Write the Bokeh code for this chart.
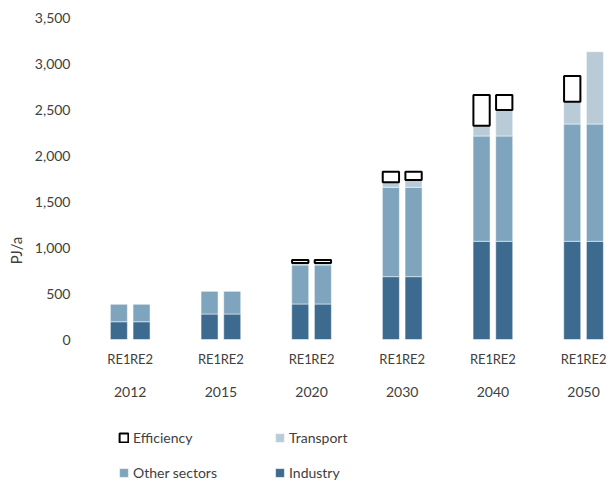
from bokeh.plotting import figure
from bokeh.models import (ColumnDataSource, Range1d, FixedTicker,
                          NumeralTickFormatter, Legend, LegendItem)
from bokeh.core.properties import value
from bokeh.embed import file_html
from bokeh.resources import INLINE

# ---- data (PJ/a) ----
years = ["2012", "2015", "2020", "2030", "2040", "2050"]
scenarios = ["RE1", "RE2"]
industry_re1 = [193, 277, 386, 683, 1067, 1067]
industry_re2 = [193, 277, 386, 683, 1067, 1067]
other_re1 = [193, 250, 424, 971, 1145, 1275]
other_re2 = [193, 250, 424, 971, 1145, 1275]
transport_re1 = [0, 0, 21, 55, 112, 243]
transport_re2 = [0, 0, 21, 80, 282, 786]
efficiency_re1 = [0, 0, 33, 115, 333, 279]
efficiency_re2 = [0, 0, 33, 90, 163, 0]

C_IND = "#3d6a8f"
C_OTH = "#7ea5bd"
C_TRA = "#b8cbd7"
TXT = "#404040"
FONT = "Lato"

# positions: group i centred at 4*i, RE1 at -0.5, RE2 at +0.5
xs, ind, oth, tra, eff, labels = [], [], [], [], [], []
for i, y in enumerate(years):
    for j, (I, O, T, E) in enumerate([
            (industry_re1[i], other_re1[i], transport_re1[i], efficiency_re1[i]),
            (industry_re2[i], other_re2[i], transport_re2[i], efficiency_re2[i])]):
        xs.append(4 * i + (j - 0.5))
        ind.append(I); oth.append(O); tra.append(T); eff.append(E)
        labels.append(scenarios[j])
centers = [4 * i for i in range(len(years))]

src = ColumnDataSource(dict(x=xs, Industry=ind, Other=oth, Transport=tra))
eb = [i + o + t for i, o, t in zip(ind, oth, tra)]
e_src = ColumnDataSource(dict(
    x=[x for x, e in zip(xs, eff) if e > 0],
    bottom=[b for b, e in zip(eb, eff) if e > 0],
    top=[b + e for b, e in zip(eb, eff) if e > 0]))

# the plotting area keeps 322 px for 0..3500; the frame extends below it
# to host the category labels and the legend
Y_MAX = 3500
PLOT_PX, BELOW_PX = 322, 144
y_start = -Y_MAX * BELOW_PX / PLOT_PX

p = figure(frame_width=532, frame_height=PLOT_PX + BELOW_PX, output_backend="svg",
           toolbar_location=None,
           x_range=Range1d(-2.37, 21.1), y_range=Range1d(y_start, Y_MAX),
           min_border_left=76, min_border_right=0, min_border_top=17,
           min_border_bottom=0, x_axis_location=None)
p.outline_line_color = None
p.xgrid.visible = False
p.ygrid.visible = False

stack = p.vbar_stack(["Industry", "Other", "Transport"], x="x", width=0.75,
                     source=src, color=[C_IND, C_OTH, C_TRA],
                     line_color="white", line_alpha=0.5, line_width=1)
effr = p.vbar(x="x", bottom="bottom", top="top", width=0.72, source=e_src,
              fill_color="white", line_color="black", line_width=2)

# y axis
ya = p.yaxis[0]
ya.bounds = (0, Y_MAX)
ya.ticker = FixedTicker(ticks=list(range(0, Y_MAX + 1, 500)))
ya.formatter = NumeralTickFormatter(format="0,0")
ya.axis_line_color = None
ya.major_tick_line_color = None
ya.minor_tick_line_color = None
ya.major_tick_out = 0
ya.major_tick_in = 0
ya.minor_tick_out = 0
ya.major_label_standoff = 6
ya.major_label_text_font = FONT
ya.major_label_text_font_size = "14px"
ya.major_label_text_color = TXT
ya.axis_label = "PJ/a"
ya.axis_label_text_font = FONT
ya.axis_label_text_font_style = "normal"
ya.axis_label_text_font_size = "15px"
ya.axis_label_text_color = TXT
ya.axis_label_standoff = 7

# category labels (scenario row and year row) hung below the zero line
lab_src = ColumnDataSource(dict(x=xs, y=[0] * len(xs), t=labels))
yr_src = ColumnDataSource(dict(x=centers, y=[0] * len(centers), t=years))
p.text(x="x", y="y", text="t", source=lab_src, y_offset=19, text_align="center",
       text_baseline="middle", text_font=value(FONT), text_font_size="13px",
       text_color=TXT)
p.text(x="x", y="y", text="t", source=yr_src, y_offset=52, text_align="center",
       text_baseline="middle", text_font=value(FONT), text_font_size="14px",
       text_color=TXT)

# column-major filling: column 1 = Efficiency / Other sectors
legend = Legend(items=[
    LegendItem(label="Efficiency", renderers=[effr]),
    LegendItem(label="Other sectors", renderers=[stack[1]]),
    LegendItem(label="Transport", renderers=[stack[2]]),
    LegendItem(label="Industry", renderers=[stack[0]]),
], ncols=2, location=(42, 2), label_text_font=FONT, label_text_font_size="14px",
    label_text_color=TXT, glyph_width=11, glyph_height=11, label_standoff=4,
    label_width=124, label_height=18, spacing=17, padding=0, margin=0,
    border_line_color=None, background_fill_alpha=0)
p.add_layout(legend)

open("out.html", "w").write(file_html(p, INLINE))
